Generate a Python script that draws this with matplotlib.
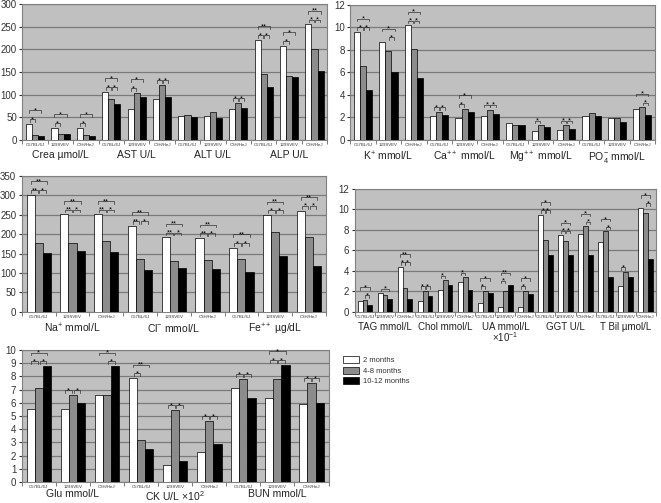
import numpy as np
import matplotlib
matplotlib.use('Agg')
import matplotlib.pyplot as plt
from matplotlib.patches import Patch
from matplotlib.transforms import blended_transform_factory

plt.rcParams['font.family'] = ['Liberation Sans', 'DejaVu Sans']
plt.rcParams['mathtext.fontset'] = 'custom'
plt.rcParams['mathtext.rm'] = 'Liberation Sans'
plt.rcParams['mathtext.it'] = 'Liberation Sans'

strains = ['C57BL/6J', '129SVEV', 'C3H/HeJ']
ages = ['2 months', '4-8 months', '10-12 months']
bar_colors = ['white', '#8c8c8c', 'black']

# panel 1 (top left)
p1_groups = ['Crea µmol/L', 'AST U/L', 'ALT U/L', 'ALP U/L']
p1_2m = [35, 27, 27, 106, 69, 91, 52, 53, 68, 221, 208, 255]
p1_48m = [10, 13, 10, 91, 104, 121, 55, 62, 81, 145, 141, 200]
p1_1012m = [8, 13, 8, 80, 95, 95, 50, 48, 70, 116, 139, 153]
# (slot, bar i, bar j, label, level)
p1_sig = [(0, 0, 1, '*', 0), (0, 0, 2, '*', 1), (1, 0, 1, '*', 0), (1, 0, 2, '*', 1),
          (2, 0, 1, '*', 0), (2, 0, 2, '*', 1),
          (3, 0, 1, '*', 0), (3, 1, 2, '*', 0), (3, 0, 2, '*', 1),
          (4, 0, 1, '*', 0), (4, 0, 2, '*', 1), (5, 0, 1, '*', 0), (5, 1, 2, '*', 0),
          (8, 0, 1, '*', 0), (8, 1, 2, '*', 0),
          (9, 0, 1, '*', 0), (9, 1, 2, '*', 0), (9, 0, 2, '**', 1),
          (10, 0, 1, '*', 0), (10, 0, 2, '*', 1),
          (11, 0, 1, '*', 0), (11, 1, 2, '*', 0), (11, 0, 2, '**', 1)]

# panel 2 (top right)
p2_groups = [r'K$^{+}$ mmol/L', r'Ca$^{++}$ mmol/L', r'Mg$^{++}$ mmol/L', r'PO$_4^{-}$ mmol/L']
p2_2m = [9.6, 8.7, 10.2, 2.1, 1.95, 2.15, 1.5, 0.75, 0.9, 2.1, 1.9, 2.75]
p2_48m = [6.6, 7.9, 8.1, 2.5, 2.75, 2.7, 1.3, 1.3, 1.3, 2.35, 1.9, 2.9]
p2_1012m = [4.4, 6.0, 5.5, 2.2, 2.5, 2.3, 1.3, 1.1, 1.0, 2.1, 1.55, 2.2]
p2_sig = [(0, 0, 1, '*', 0), (0, 1, 2, '*', 0), (0, 0, 2, '*', 1),
          (1, 1, 2, '*', 0), (1, 0, 2, '*', 1),
          (2, 0, 1, '*', 0), (2, 1, 2, '*', 0), (2, 0, 2, '*', 1),
          (3, 0, 1, '*', 0), (3, 1, 2, '*', 0),
          (4, 0, 1, '*', 0), (4, 0, 2, '*', 1),
          (5, 0, 1, '*', 0), (5, 1, 2, '*', 0),
          (7, 0, 1, '*', 0), (8, 0, 1, '*', 0), (8, 1, 2, '*', 0),
          (11, 1, 2, '*', 0), (11, 0, 2, '*', 1)]

# panel 3 (middle left)
p3_groups = [r'Na$^{+}$ mmol/L', r'Cl$^{-}$ mmol/L', r'Fe$^{++}$ µg/dL']
p3_2m = [302, 251, 251, 222, 192, 190, 165, 249, 261]
p3_48m = [178, 178, 183, 137, 130, 133, 137, 206, 192]
p3_1012m = [151, 158, 153, 109, 113, 111, 103, 144, 118]
p3_sig = []
for s in range(6):
    p3_sig += [(s, 0, 1, '**', 0), (s, 1, 2, '*', 0), (s, 0, 2, '**', 1)]
for s in range(6, 9):
    p3_sig += [(s, 0, 1, '*', 0), (s, 1, 2, '*', 0), (s, 0, 2, '**', 1)]

# panel 4 (middle right)
p4_groups = ['TAG mmol/L', 'Chol mmol/L', 'UA mmol/L\n' + r'$\times 10^{-1}$', 'GGT U/L', 'T Bil µmol/L']
p4_2m = [1.1, 1.85, 4.4, 1.1, 2.15, 2.95, 0.85, 0.5, 0.5, 9.45, 7.5, 7.6, 6.8, 2.55, 10.15]
p4_48m = [1.2, 1.6, 2.3, 2.05, 3.1, 3.4, 2.05, 2.05, 2.05, 7.0, 6.9, 8.35, 7.85, 3.9, 9.6]
p4_1012m = [0.7, 1.25, 1.25, 1.5, 2.65, 2.15, 1.8, 2.6, 1.75, 5.5, 5.5, 5.5, 3.4, 3.4, 5.15]
p4_sig = [(0, 1, 2, '*', 0), (0, 0, 2, '*', 1), (1, 0, 2, '*', 0),
          (2, 0, 1, '*', 0), (2, 1, 2, '*', 0), (2, 0, 2, '**', 1),
          (3, 0, 1, '*', 0), (3, 1, 2, '*', 0), (4, 0, 1, '*', 0), (5, 0, 1, '*', 0),
          (6, 0, 1, '*', 0), (6, 0, 2, '*', 1), (7, 0, 1, '*', 0), (7, 0, 2, '**', 1),
          (8, 0, 1, '*', 0), (8, 0, 2, '*', 1),
          (9, 0, 1, '*', 0), (9, 1, 2, '*', 0), (9, 0, 2, '*', 1),
          (10, 0, 1, '*', 0), (10, 1, 2, '*', 0), (10, 0, 2, '*', 1),
          (11, 1, 2, '*', 0), (11, 0, 2, '*', 1),
          (12, 1, 2, '*', 0), (12, 0, 2, '*', 1), (13, 0, 1, '*', 0),
          (14, 1, 2, '*', 0), (14, 0, 2, '*', 1)]

# panel 5 (bottom left)
p5_groups = ['Glu mmol/L', r'CK U/L $\times 10^{2}$', 'BUN mmol/L']
p5_2m = [5.5, 5.5, 6.6, 7.9, 1.3, 2.25, 7.1, 6.4, 5.9]
p5_48m = [7.1, 6.6, 6.6, 3.2, 5.45, 4.65, 7.8, 7.8, 7.5]
p5_1012m = [8.8, 6.0, 8.8, 2.5, 1.6, 2.9, 6.4, 8.9, 6.0]
p5_sig = [(0, 0, 1, '*', 0), (0, 1, 2, '*', 0), (0, 0, 2, '*', 1),
          (1, 0, 1, '*', 0), (1, 1, 2, '*', 0),
          (2, 1, 2, '*', 0), (2, 0, 2, '*', 1),
          (3, 0, 1, '*', 0), (3, 0, 2, '**', 1),
          (4, 0, 1, '*', 0), (4, 1, 2, '*', 0), (5, 0, 1, '*', 0), (5, 1, 2, '*', 0),
          (6, 0, 1, '*', 0), (6, 1, 2, '*', 0),
          (7, 0, 1, '*', 0), (7, 1, 2, '*', 0), (7, 0, 2, '*', 1),
          (8, 0, 1, '*', 0), (8, 1, 2, '*', 0)]

BW = 0.24


def draw_panel(rect, groups, series, sig, ymax, ystep, label_y=-0.075, label_size=7.5):
    ax = fig.add_axes(rect)
    ax.set_facecolor('#c0c0c0')
    n = len(series[0])
    x = np.arange(n)
    for k in range(3):
        ax.bar(x + (k - 1) * BW, series[k], BW, color=bar_colors[k],
               edgecolor='black', linewidth=0.5, zorder=3)
    ax.set_xlim(-0.5, n - 0.5)
    ax.set_ylim(0, ymax)
    ax.set_yticks(np.arange(0, ymax + ystep / 2, ystep))
    ax.yaxis.grid(True, color='#7a7a7a', linewidth=0.9, zorder=0)
    ax.set_axisbelow(True)
    ax.set_xticks(x, [strains[i % 3] for i in range(n)], fontsize=3.2)
    ax.set_xticks(np.arange(n + 1) - 0.5, minor=True)
    ax.tick_params(axis='x', which='major', length=0, pad=2, colors='#333333')
    ax.tick_params(axis='x', which='minor', length=3, color='#666666')
    ax.tick_params(axis='y', labelsize=7, length=2, colors='#333333', pad=2)
    for sp in ax.spines.values():
        sp.set_color('#808080')
        sp.set_linewidth(0.8)
    trans = blended_transform_factory(ax.transData, ax.transAxes)
    for g, name in enumerate(groups):
        ax.text(g * 3 + 1, label_y, name, transform=trans, ha='center', va='top',
                fontsize=label_size, color='#222222', linespacing=0.9)
    for slot, i, j, lab, lev in sig:
        top = max(series[0][slot], series[1][slot], series[2][slot])
        y = top + (0.035 + 0.065 * lev) * ymax
        x0 = slot + (i - 1) * BW
        x1 = slot + (j - 1) * BW
        if lev == 0:
            x0 += 0.08 * BW
            x1 -= 0.08 * BW
        tick = 0.02 * ymax
        ax.plot([x0, x0, x1, x1], [y - tick, y, y, y - tick], color='#333333',
                linewidth=0.5, zorder=4)
        ax.text((x0 + x1) / 2, y - 0.004 * ymax, lab, ha='center', va='center',
                fontsize=5.5, color='black', zorder=5)
    return ax


fig = plt.figure(figsize=(6.61, 5.03), dpi=100)

draw_panel([0.034, 0.722, 0.461, 0.270], p1_groups, [p1_2m, p1_48m, p1_1012m], p1_sig, 300, 50)
draw_panel([0.530, 0.722, 0.461, 0.268], p2_groups, [p2_2m, p2_48m, p2_1012m], p2_sig, 12, 2)
draw_panel([0.033, 0.380, 0.460, 0.270], p3_groups, [p3_2m, p3_48m, p3_1012m], p3_sig, 350, 50)
draw_panel([0.537, 0.380, 0.455, 0.245], p4_groups, [p4_2m, p4_48m, p4_1012m], p4_sig, 12, 2,
           label_y=-0.08, label_size=7)
draw_panel([0.033, 0.042, 0.464, 0.262], p5_groups, [p5_2m, p5_48m, p5_1012m], p5_sig, 10, 1,
           label_y=-0.055)

handles = [Patch(facecolor=bar_colors[k], edgecolor='black', linewidth=0.5) for k in range(3)]
fig.legend(handles, ages, loc='upper left', bbox_to_anchor=(0.508, 0.305), frameon=False,
           fontsize=5.5, handlelength=2.2, handleheight=1.0, labelspacing=0.3,
           handletextpad=0.5, labelcolor='#333333')

fig.savefig('out.png', dpi=100, facecolor='white')
